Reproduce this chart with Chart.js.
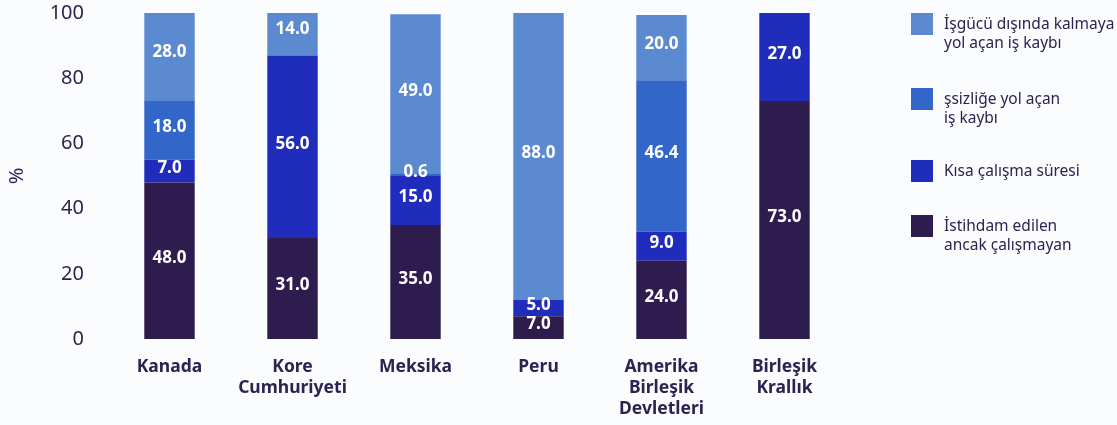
<!DOCTYPE html>
<html><head><meta charset="utf-8">
<script src="https://cdn.jsdelivr.net/npm/chart.js@4.4.1/dist/chart.umd.min.js"></script>
<style>
html,body{margin:0;padding:0;background:#fbfcfe;}
#wrap{position:relative;width:1117px;height:425px;font-family:"Noto Sans",sans-serif;color:#2d2350;}
canvas{position:absolute;left:0;top:0;}
.lg{position:absolute;left:911px;}
.sw{position:absolute;left:0;top:0;width:22px;height:22px;}
.tx{position:absolute;left:33px;top:1px;font-size:15.5px;line-height:18.5px;white-space:nowrap;}
</style></head>
<body><div id="wrap"><canvas id="c" width="1117" height="425"></canvas><div id="legend"></div></div>
<script>
const categories = [['Kanada'], ['Kore','Cumhuriyeti'], ['Meksika'], ['Peru'], ['Amerika','Birleşik','Devletleri'], ['Birleşik','Krallık']];
const employedNotWorking = [48, 31, 35, 7, 24, 73];
const shortTime = [7, 56, 15, 5, 9, 27];
const unemploymentLoss = [18, 0, 0.6, 0, 46.4, 0];
const outOfLabourLoss = [28, 14, 49, 88, 20, 0];
const seriesNames = [
  ['İstihdam edilen','ancak çalışmayan'],
  ['Kısa çalışma süresi'],
  ['şsizliğe yol açan','iş kaybı'],
  ['İşgücü dışında kalmaya','yol açan iş kaybı']
];
const seriesColors = ['#2e1c4f', '#1f2cbc', '#3366c9', '#5b8ad0'];
const yTicks = [0, 20, 40, 60, 80, 100];
const textColor = '#2d2350';

const seriesValues = [employedNotWorking, shortTime, unemploymentLoss, outOfLabourLoss];
const datasets = seriesValues.map((v, i) => ({
  label: seriesNames[i].join(' '),
  data: v,
  backgroundColor: seriesColors[i],
  borderWidth: 0,
  categoryPercentage: 1,
  barPercentage: 0.41,
  clip: 0
}));

const labelPlugin = {
  id: 'segLabels',
  afterDatasetsDraw(chart) {
    const ctx = chart.ctx;
    ctx.save();
    ctx.font = 'bold 17px "Noto Sans"';
    ctx.fillStyle = '#ffffff';
    ctx.textAlign = 'center';
    ctx.textBaseline = 'middle';
    chart.data.datasets.forEach((ds, di) => {
      const meta = chart.getDatasetMeta(di);
      meta.data.forEach((el, i) => {
        const v = ds.data[i];
        if (!v) return;
        const p = el.getProps(['x', 'y', 'base'], true);
        ctx.fillText(v.toFixed(1), p.x, (p.y + p.base) / 2 - 3);
      });
    });
    ctx.restore();
  }
};

new Chart(document.getElementById('c'), {
  type: 'bar',
  data: { labels: categories, datasets },
  options: {
    responsive: false,
    animation: false,
    events: [],
    layout: { padding: { top: 13, right: 271, left: 0, bottom: 0 } },
    plugins: { legend: { display: false }, tooltip: { enabled: false } },
    scales: {
      x: {
        stacked: true,
        grid: { display: false },
        border: { display: false },
        ticks: { color: textColor, font: { family: 'Noto Sans', size: 17.5, weight: 'bold', lineHeight: 1.2 }, padding: 10, maxRotation: 0, autoSkip: false },
        afterFit: s => { s.height = 86; s.paddingLeft = 0; s.paddingRight = 0; }
      },
      y: {
        stacked: true,
        min: 0, max: 100,
        afterBuildTicks: s => { s.ticks = yTicks.map(v => ({ value: v })); },
        grid: { display: false },
        border: { display: false },
        ticks: { color: textColor, font: { family: 'Noto Sans', size: 20 }, padding: 16 },
        title: { display: true, text: '%', color: textColor, font: { family: 'Noto Sans', size: 20 }, padding: { top: 5, bottom: 0 } },
        afterFit: s => { s.width = 108; s.paddingTop = 0; s.paddingBottom = 0; }
      }
    }
  },
  plugins: [labelPlugin]
});

// HTML legend built from the series arrays (top item = last series)
const legendTops = [215, 160, 88, 13];
const lg = document.getElementById('legend');
seriesNames.forEach((n, i) => {
  const d = document.createElement('div');
  d.className = 'lg';
  d.style.top = legendTops[i] + 'px';
  d.innerHTML = '<div class="sw" style="background:' + seriesColors[i] + '"></div><div class="tx">' + n.join('<br>') + '</div>';
  lg.appendChild(d);
});
</script></body></html>
